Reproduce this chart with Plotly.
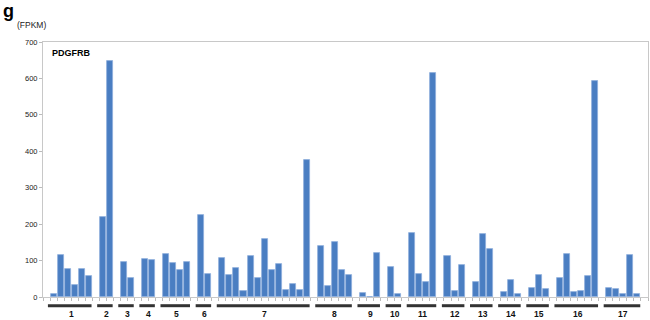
import plotly.graph_objects as go

# ---- data ----
group_labels = ["1", "2", "3", "4", "5", "6", "7", "8", "9", "10",
                "11", "12", "13", "14", "15", "16", "17"]
g1 = [9, 114, 77, 32, 76, 58]
g2 = [220, 647]
g3 = [95, 52]
g4 = [105, 101]
g5 = [117, 93, 74, 97]
g6 = [224, 63]
g7 = [107, 60, 79, 16, 113, 52, 158, 73, 91, 19, 37, 19, 375]
g8 = [141, 31, 150, 73, 60]
g9 = [11, 0, 122]
g10 = [83, 8]
g11 = [177, 64, 41, 616]
g12 = [112, 16, 89]
g13 = [41, 174, 132]
g14 = [13, 48, 9]
g15 = [25, 60, 23]
g16 = [53, 119, 13, 16, 58, 593]
g17 = [25, 21, 8, 114, 8]
groups = [g1, g2, g3, g4, g5, g6, g7, g8, g9, g10, g11, g12, g13, g14, g15, g16, g17]
y_ticks = [0, 100, 200, 300, 400, 500, 600, 700]

# ---- build slot positions: one blank slot before each group, one at end ----
xs, ys = [], []
spans = []
pos = 0
for vals in groups:
    pos += 1  # spacer
    start = pos
    for v in vals:
        xs.append(pos)
        ys.append(v)
        pos += 1
    spans.append((start, pos - 1))
n_slots = pos + 1

BAR = "#4A7EC2"
FONT = "Liberation Sans, Arial"

fig = go.Figure()
fig.add_trace(go.Bar(
    x=xs, y=ys, width=0.86,
    marker=dict(color=BAR, line=dict(color="#8EAEDC", width=0.8)),
    hoverinfo="x+y", showlegend=False,
))

W, H = 650, 320
ML, MR, MT, MB = 43, 2, 42, 23
plot_h = H - MT - MB
plot_w = W - ML - MR

def py2paper(py):
    return -(py - (H - MB)) / plot_h

def px2paper(px):
    return (px - ML) / plot_w

shapes = []
annotations = []
for (s, e), lab in zip(spans, group_labels):
    shapes.append(dict(
        type="line", xref="x", yref="paper",
        x0=s - 0.8, x1=e + 0.4,
        y0=py2paper(305.7), y1=py2paper(305.7),
        line=dict(color="#333333", width=3),
    ))
    annotations.append(dict(
        x=(s + e) / 2, xref="x", y=py2paper(314), yref="paper",
        text="<b>%s</b>" % lab, showarrow=False,
        font=dict(family=FONT, size=8.5, color="#111111"),
        xanchor="center", yanchor="middle",
    ))

annotations.append(dict(
    x=px2paper(50), xref="paper", xanchor="left",
    y=py2paper(53), yref="paper", yanchor="middle",
    text="<b>PDGFRB</b>", showarrow=False,
    font=dict(family=FONT, size=9, color="#000000"),
))
annotations.append(dict(
    x=px2paper(31), xref="paper", xanchor="center",
    y=py2paper(25), yref="paper", yanchor="middle",
    text="(FPKM)", showarrow=False,
    font=dict(family=FONT, size=8.5, color="#222222"),
))
annotations.append(dict(
    x=px2paper(1), xref="paper", xanchor="left",
    y=py2paper(11), yref="paper", yanchor="middle",
    text="<b>g</b>", showarrow=False,
    font=dict(family=FONT, size=18, color="#000000"),
))

fig.update_layout(
    width=W, height=H,
    margin=dict(l=ML, r=MR, t=MT, b=MB, autoexpand=False),
    paper_bgcolor="white", plot_bgcolor="white",
    bargap=0,
    shapes=shapes, annotations=annotations,
    font=dict(family=FONT, size=7, color="#222222"),
)
fig.update_xaxes(
    range=[-0.5, n_slots - 0.5],
    tickmode="array",
    tickvals=[i - 0.5 for i in range(n_slots + 1)],
    ticktext=["" for _ in range(n_slots + 1)],
    ticks="outside", ticklen=3, tickcolor="#BBBBBB", tickwidth=1,
    showline=True, linecolor="#C8C8C8", linewidth=1, mirror=True,
    showgrid=False, zeroline=False, automargin=False,
)
fig.update_yaxes(
    range=[0, 700],
    tickmode="array", tickvals=y_ticks,
    ticks="outside", ticklen=3, tickcolor="#BBBBBB", tickwidth=1,
    tickfont=dict(family=FONT, size=7.5, color="#222222"),
    showline=True, linecolor="#C8C8C8", linewidth=1, mirror=True,
    showgrid=False, zeroline=False, automargin=False,
)

fig.write_html("out.html",
               config={"displayModeBar": False},
               post_script="document.body.style.margin='0px';document.body.style.overflow='hidden';")
